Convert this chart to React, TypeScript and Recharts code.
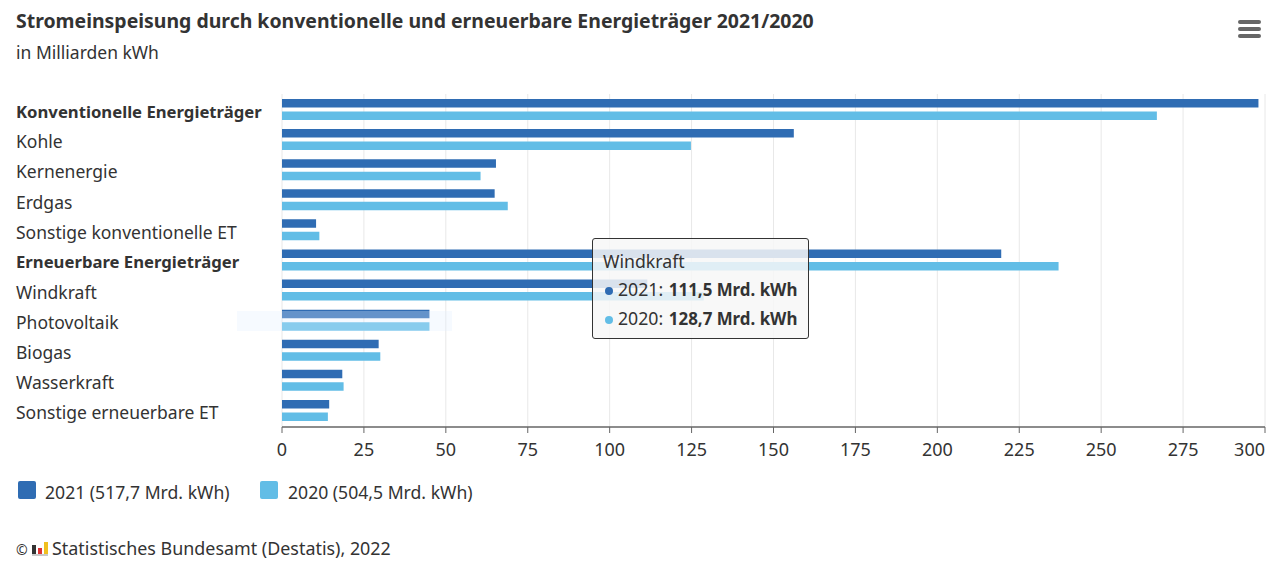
import { BarChart, Bar, XAxis, YAxis, CartesianGrid, Tooltip } from "recharts";

const FONT = "'Noto Sans', sans-serif";
const TEXT = "#333";

const categories = [
  "Konventionelle Energieträger",
  "Kohle",
  "Kernenergie",
  "Erdgas",
  "Sonstige konventionelle ET",
  "Erneuerbare Energieträger",
  "Windkraft",
  "Photovoltaik",
  "Biogas",
  "Wasserkraft",
  "Sonstige erneuerbare ET",
];
const boldCategories = ["Konventionelle Energieträger", "Erneuerbare Energieträger"];
const values2021 = [298, 156.2, 65.3, 64.9, 10.4, 219.5, 111.5, 45, 29.5, 18.4, 14.4];
const values2020 = [267, 124.8, 60.6, 68.9, 11.4, 237, 128.7, 45, 30, 18.8, 14];
const xTicks = [0, 25, 50, 75, 100, 125, 150, 175, 200, 225, 250, 275, 300];

const COLOR_2021 = "#2f6cb3";
const COLOR_2020 = "#62bde6";

const legendItems = [
  { label: "2021 (517,7 Mrd. kWh)", color: COLOR_2021, left: 18, textLeft: 45 },
  { label: "2020 (504,5 Mrd. kWh)", color: COLOR_2020, left: 260, textLeft: 288 },
];

const data = categories.map((name, i) => ({ name, y2021: values2021[i], y2020: values2020[i] }));

const CategoryTick = ({ y, payload }: any) => {
  const bold = boldCategories.includes(payload.value);
  return (
    <text x={16} y={y} dy={bold ? 8.5 : 9.2} fontFamily={FONT} fontSize={bold ? 16.7 : 17.5} fontWeight={bold ? 700 : 400} fill={TEXT}>
      {payload.value}
    </text>
  );
};

const ValueTick = ({ x, y, payload }: any) => (
  <text
    x={x}
    y={y}
    dy={21}
    textAnchor={payload.value === 300 ? "end" : "middle"}
    fontFamily={FONT}
    fontSize={18}
    fill={TEXT}
  >
    {payload.value}
  </text>
);

const ChartTooltip = ({ active, payload, label }: any) => {
  if (!active || !payload?.length) return null;
  return (
    <div style={{
      width: 217, height: 101, boxSizing: "border-box", background: "rgba(247,247,247,0.85)",
      border: "1px solid #333", borderRadius: 3, padding: "8px 0 0 10px",
      fontFamily: FONT, fontSize: 17.7, color: TEXT, lineHeight: "28px", whiteSpace: "nowrap",
    }}>
      <div>{label}</div>
      {payload.map((p: any) => (
        <div key={p.dataKey}>
          <span style={{ display: "inline-block", width: 8, height: 8, borderRadius: "50%", background: p.color, margin: "0 5px 1px 2px" }} />
          {p.name}: <b style={{ fontSize: 16.9, marginLeft: 1 }}>{p.value.toLocaleString("de-DE")} Mrd. kWh</b>
        </div>
      ))}
    </div>
  );
};

export default function App() {
  return (
    <div style={{ position: "absolute", left: 0, top: 0, width: 1280, height: 571, overflow: "hidden", background: "#fff", fontFamily: FONT, color: TEXT }}>
      <div style={{ position: "absolute", left: 16, top: 7, fontSize: 19.45, fontWeight: 700, whiteSpace: "nowrap" }}>
        Stromeinspeisung durch konventionelle und erneuerbare Energieträger 2021/2020
      </div>
      <div style={{ position: "absolute", left: 16, top: 40, fontSize: 17.5, whiteSpace: "nowrap" }}>in Milliarden kWh</div>

      <div style={{ position: "absolute", left: 1238, top: 20, width: 23 }}>
        {[0, 1, 2].map((i) => (
          <div key={i} style={{ height: 4, borderRadius: 2, background: "#666", marginBottom: 3 }} />
        ))}
      </div>

      <div style={{ position: "absolute", left: 0, top: 0 }}>
        <BarChart
          width={1280}
          height={571}
          data={data}
          layout="vertical"
          barSize={8.5}
          barGap={4}
          margin={{ top: 94, right: 15, bottom: 104, left: 0 }}
        >
          <CartesianGrid horizontal={false} stroke="#e8e8e8" />
          <XAxis
            type="number"
            domain={[0, 300]}
            ticks={xTicks}
            interval={0}
            height={40}
            tick={<ValueTick />}
            axisLine={{ stroke: "#666", strokeWidth: 1.5 }}
            tickLine={{ stroke: "#666" }}
            tickSize={6}
          />
          <YAxis
            type="category"
            dataKey="name"
            width={282}
            interval={0}
            padding={{ top: 0, bottom: 2 }}
            tick={<CategoryTick />}
            axisLine={false}
            tickLine={false}
          />
          <Tooltip
            defaultIndex={6}
            cursor={false}
            position={{ x: 592, y: 238 }}
            content={<ChartTooltip />}
            wrapperStyle={{ outline: "none" }}
            isAnimationActive={false}
          />
          <Bar dataKey="y2021" name="2021" fill={COLOR_2021} isAnimationActive={false} activeBar={false} />
          <Bar dataKey="y2020" name="2020" fill={COLOR_2020} isAnimationActive={false} activeBar={false} />
        </BarChart>
      </div>

      <div style={{ position: "absolute", left: 237, top: 311, width: 215, height: 20, background: "rgba(225,240,255,0.3)" }} />

      {legendItems.map((item) => (
        <div key={item.label}>
          <div style={{ position: "absolute", left: item.left, top: 481, width: 18, height: 18, borderRadius: 2, background: item.color }} />
          <div style={{ position: "absolute", left: item.textLeft, top: 480, fontSize: 17.6, whiteSpace: "nowrap" }}>{item.label}</div>
        </div>
      ))}

      <div style={{ position: "absolute", left: 16, top: 540, fontSize: 14 }}>©</div>
      <svg style={{ position: "absolute", left: 32, top: 542 }} width={16} height={14}>
        <rect x={0} y={3} width={4} height={9} fill="#333" />
        <rect x={6} y={6} width={4} height={6} fill="#d33" />
        <rect x={12} y={0} width={4} height={12} fill="#f0c020" />
        <rect x={0} y={12} width={16} height={2} fill="#c9c9c9" />
      </svg>
      <div style={{ position: "absolute", left: 52, top: 536, fontSize: 17.9, whiteSpace: "nowrap" }}>Statistisches Bundesamt (Destatis), 2022</div>
    </div>
  );
}
